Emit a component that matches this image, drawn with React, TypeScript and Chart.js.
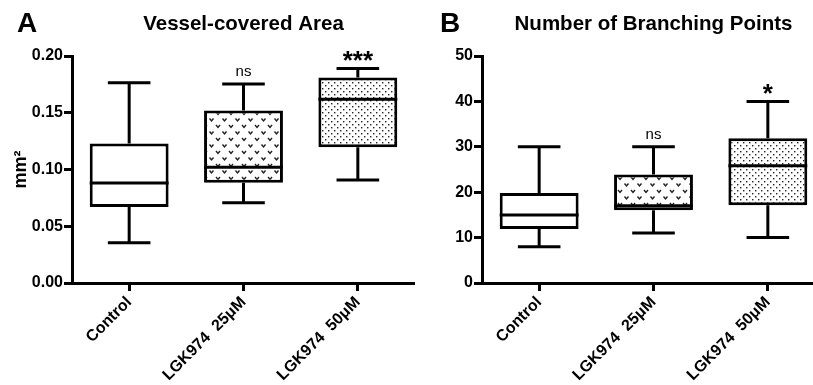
import React, { useEffect, useRef } from 'react';
import { Chart, registerables } from 'chart.js';

Chart.register(...registerables);

// ---------- data ----------
const categories = ['Control', 'LGK974  25μM', 'LGK974  50μM'];

// Panel A: Vessel-covered Area (mm²)
const areaMin = [0.0355, 0.0708, 0.0907];
const areaQ1 = [0.067, 0.0883, 0.1197];
const areaMedian = [0.0881, 0.102, 0.1618];
const areaQ3 = [0.123, 0.152, 0.181];
const areaMax = [0.1765, 0.1753, 0.189];
const areaSignif = ['', 'ns', '***'];
const areaTickLabels = ['0.00', '0.05', '0.10', '0.15', '0.20'];

// Panel B: Number of Branching Points
const branchMin = [8, 11, 10];
const branchQ1 = [11.9, 16.0, 17.1];
const branchMedian = [15, 17.0, 25.8];
const branchQ3 = [19.8, 23.9, 31.9];
const branchMax = [30, 30, 40];
const branchSignif = ['', 'ns', '*'];
const branchTickLabels = ['0', '10', '20', '30', '40', '50'];

const FONT = "'Liberation Sans', Arial, Helvetica, sans-serif";

function makeVPattern(): CanvasPattern | string {
  const c = document.createElement('canvas');
  c.width = 13;
  c.height = 13;
  const g = c.getContext('2d');
  if (!g) return '#fff';
  g.fillStyle = '#fff';
  g.fillRect(0, 0, 13, 13);
  g.strokeStyle = '#222';
  g.lineWidth = 1.4;
  const v = (x: number, y: number) => {
    g.beginPath();
    g.moveTo(x, y);
    g.lineTo(x + 2, y + 2.5);
    g.lineTo(x + 4, y);
    g.stroke();
  };
  v(1.5, 1.5);
  v(8, 8);
  return g.createPattern(c, 'repeat') || '#fff';
}

function makeDotPattern(): CanvasPattern | string {
  const c = document.createElement('canvas');
  c.width = 6;
  c.height = 6;
  const g = c.getContext('2d');
  if (!g) return '#fff';
  g.fillStyle = '#fff';
  g.fillRect(0, 0, 6, 6);
  g.fillStyle = '#222';
  g.fillRect(1, 1, 1.4, 1.4);
  g.fillRect(4, 4, 1.4, 1.4);
  return g.createPattern(c, 'repeat') || '#fff';
}

interface PanelProps {
  left: number;
  width: number;
  yWidth: number;
  letter: string;
  letterX: number;
  title: string;
  yTitle?: string;
  yMax: number;
  yStep: number;
  tickLabels: string[];
  mins: number[];
  q1s: number[];
  medians: number[];
  q3s: number[];
  maxs: number[];
  signif: string[];
}

function BoxPanel(p: PanelProps) {
  const ref = useRef<HTMLCanvasElement | null>(null);

  useEffect(() => {
    const canvas = ref.current;
    if (!canvas) return;

    const extras = {
      id: 'boxExtras',
      afterDatasetsDraw(chart: any) {
        const ctx: CanvasRenderingContext2D = chart.ctx;
        const y = chart.scales.y;
        const meta = chart.getDatasetMeta(0);
        ctx.save();
        ctx.strokeStyle = '#000';
        ctx.lineWidth = 3;
        ctx.lineCap = 'butt';
        meta.data.forEach((bar: any, i: number) => {
          const x = bar.x;
          const w = bar.width;
          const capHalf = w * 0.27;
          const pMin = y.getPixelForValue(p.mins[i]);
          const pMax = y.getPixelForValue(p.maxs[i]);
          const pQ1 = y.getPixelForValue(p.q1s[i]);
          const pQ3 = y.getPixelForValue(p.q3s[i]);
          const pMed = y.getPixelForValue(p.medians[i]);
          ctx.beginPath();
          // upper whisker
          ctx.moveTo(x, pQ3);
          ctx.lineTo(x, pMax);
          ctx.moveTo(x - capHalf, pMax);
          ctx.lineTo(x + capHalf, pMax);
          // lower whisker
          ctx.moveTo(x, pQ1);
          ctx.lineTo(x, pMin);
          ctx.moveTo(x - capHalf, pMin);
          ctx.lineTo(x + capHalf, pMin);
          // median
          ctx.moveTo(x - w / 2, pMed);
          ctx.lineTo(x + w / 2, pMed);
          ctx.stroke();

          const s = p.signif[i];
          if (s) {
            ctx.fillStyle = '#000';
            ctx.textAlign = 'center';
            ctx.textBaseline = 'alphabetic';
            if (s === 'ns') {
              ctx.font = `15px ${FONT}`;
              ctx.fillText(s, x, pMax - 8);
            } else {
              ctx.font = `bold 26px ${FONT}`;
              ctx.fillText(s, x, pMax + 1);
            }
          }
        });
        ctx.restore();
      },
      afterDraw(chart: any) {
        const ctx: CanvasRenderingContext2D = chart.ctx;
        const area = chart.chartArea;
        ctx.save();
        ctx.fillStyle = '#000';
        ctx.textBaseline = 'alphabetic';
        ctx.textAlign = 'left';
        ctx.font = `bold 28px ${FONT}`;
        ctx.fillText(p.letter, p.letterX, 32);
        ctx.textAlign = 'center';
        ctx.font = `bold 20.5px ${FONT}`;
        ctx.fillText(p.title, (area.left + area.right) / 2, 30);
        ctx.restore();
      },
    };

    const chart = new Chart(canvas, {
      type: 'bar',
      data: {
        labels: categories,
        datasets: [
          {
            data: categories.map((_, i) => [p.q1s[i], p.q3s[i]]) as any,
            backgroundColor: ['#ffffff', makeVPattern(), makeDotPattern()] as any,
            borderColor: '#000',
            borderWidth: 3,
            borderSkipped: false,
            barPercentage: 0.69,
            categoryPercentage: 1,
          },
        ],
      },
      options: {
        animation: false,
        responsive: false,
        devicePixelRatio: 1,
        layout: { padding: { top: 56, left: 0, right: 0, bottom: 0 } },
        plugins: {
          legend: { display: false },
          tooltip: { enabled: false },
          title: { display: false },
        },
        scales: {
          x: {
            offset: true,
            afterFit: (s: any) => {
              s.height = 102;
            },
            grid: {
              offset: false,
              drawOnChartArea: false,
              drawTicks: true,
              tickLength: 8,
              tickWidth: 3,
              tickColor: '#000',
            },
            border: { display: true, color: '#000', width: 3 },
            ticks: {
              color: '#000',
              font: { family: FONT, size: 16, weight: 'bold' },
              minRotation: 45,
              maxRotation: 45,
              padding: 2,
              autoSkip: false,
            },
          },
          y: {
            min: 0,
            max: p.yMax,
            afterFit: (s: any) => {
              s.width = p.yWidth;
            },
            grid: {
              drawOnChartArea: false,
              drawTicks: true,
              tickLength: 8,
              tickWidth: 3,
              tickColor: '#000',
            },
            border: { display: true, color: '#000', width: 3 },
            ticks: {
              stepSize: p.yStep,
              color: '#000',
              padding: 1,
              font: { family: FONT, size: 16, weight: 'bold' },
              callback: (_v: any, idx: number) => p.tickLabels[idx],
            },
            title: {
              display: !!p.yTitle,
              text: p.yTitle || '',
              color: '#000',
              font: { family: FONT, size: 18, weight: 'bold' },
              padding: { top: 10, bottom: 0 },
            },
          },
        },
      },
      plugins: [extras],
    });

    return () => chart.destroy();
  }, []);

  return (
    <canvas
      ref={ref}
      width={p.width}
      height={385}
      style={{ position: 'absolute', left: p.left, top: 0, width: p.width, height: 385 }}
    />
  );
}

export default function App() {
  return (
    <div
      style={{
        position: 'fixed',
        left: 0,
        top: 0,
        width: 813,
        height: 385,
        overflow: 'hidden',
        background: '#fff',
      }}
    >
      <BoxPanel
        left={0}
        width={415}
        yWidth={72}
        letter="A"
        letterX={17}
        title="Vessel-covered Area"
        yTitle="mm²"
        yMax={0.2}
        yStep={0.05}
        tickLabels={areaTickLabels}
        mins={areaMin}
        q1s={areaQ1}
        medians={areaMedian}
        q3s={areaQ3}
        maxs={areaMax}
        signif={areaSignif}
      />
      <BoxPanel
        left={415}
        width={410}
        yWidth={67}
        letter="B"
        letterX={25}
        title="Number of Branching Points"
        yMax={50}
        yStep={10}
        tickLabels={branchTickLabels}
        mins={branchMin}
        q1s={branchQ1}
        medians={branchMedian}
        q3s={branchQ3}
        maxs={branchMax}
        signif={branchSignif}
      />
    </div>
  );
}
